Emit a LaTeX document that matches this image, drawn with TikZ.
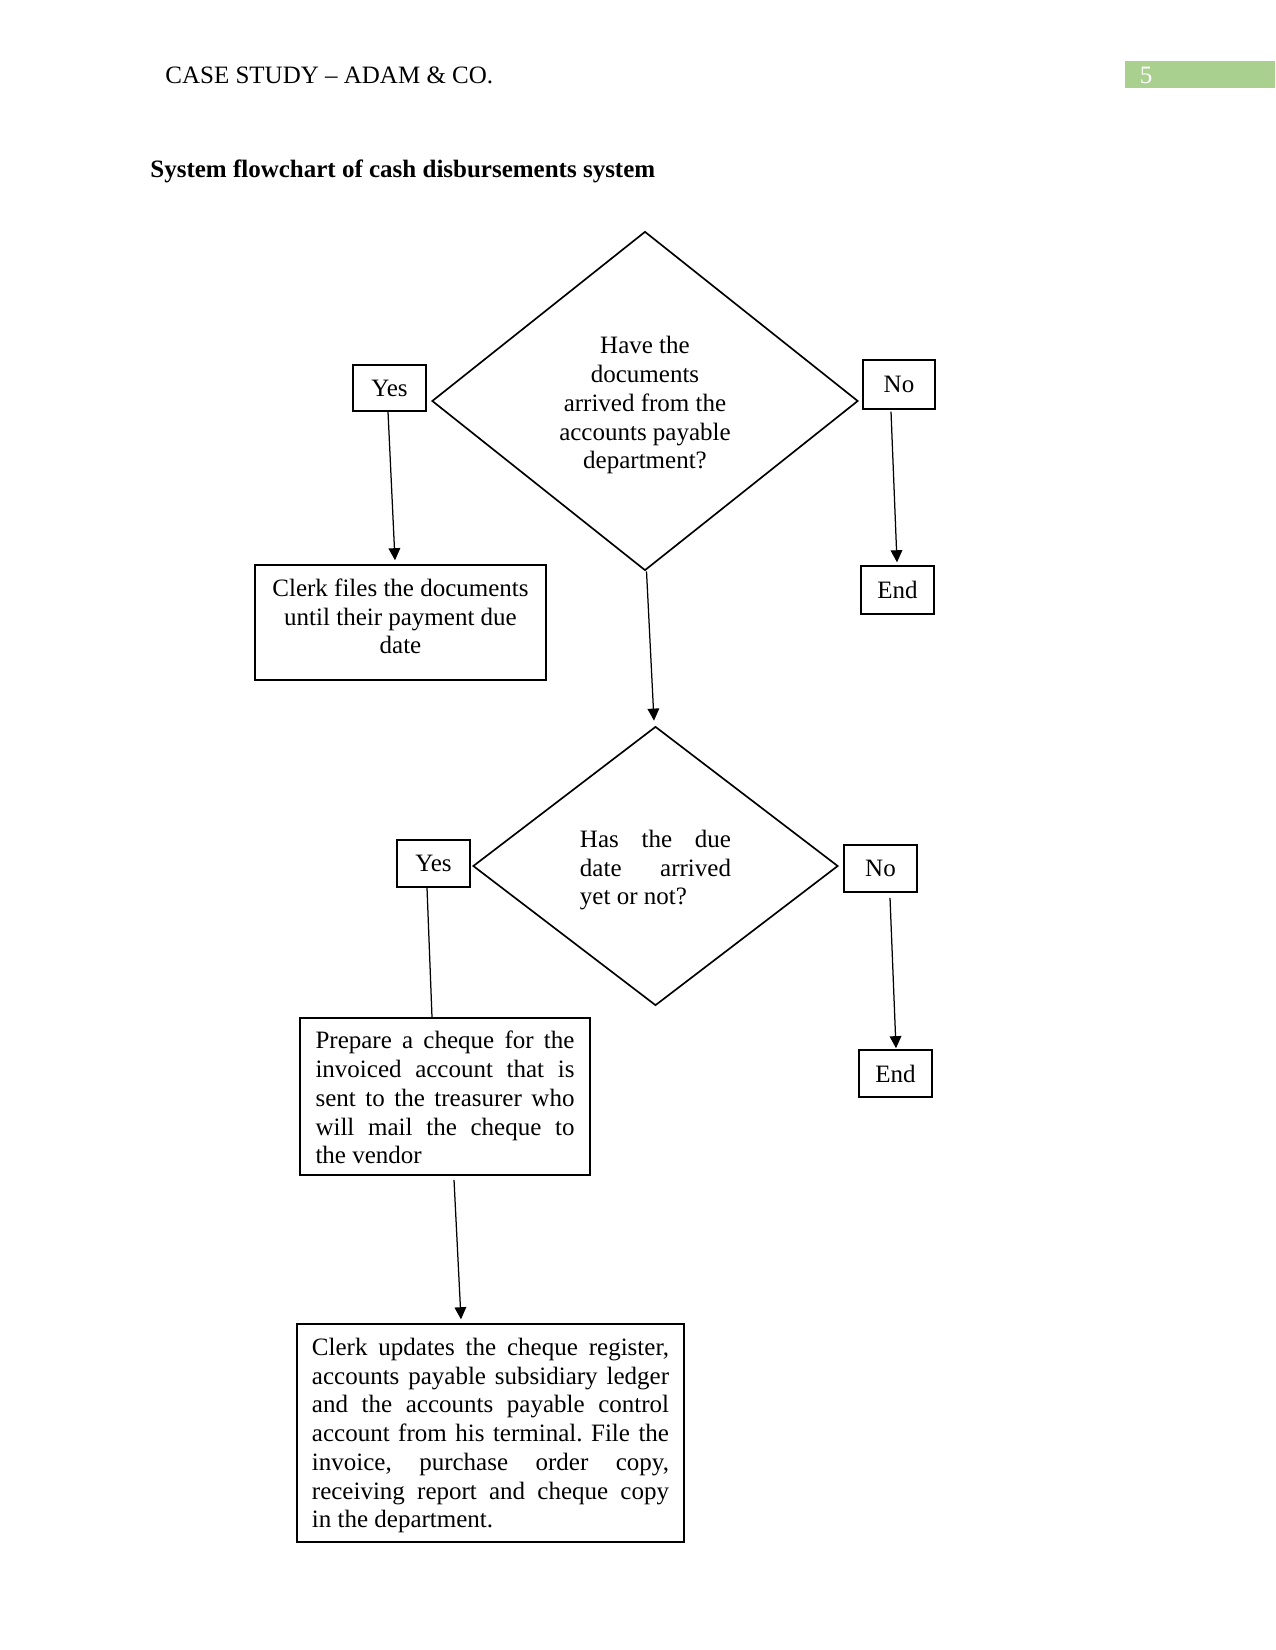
\documentclass[tikz,border=0pt]{standalone}
\usepackage{fontspec}
\setmainfont{Liberation Serif}
\usetikzlibrary{shapes.geometric,arrows.meta,calc}
\definecolor{pnbg}{HTML}{A9D08E}
\frenchspacing
\begin{document}
\begin{tikzpicture}[x=0.48pt,y=-0.48pt,
  every node/.style={font=\fontsize{12}{13.8}\selectfont},
  lbl/.style={draw, line width=0.7pt, inner sep=0pt, minimum width=35pt, minimum height=22.6pt},
  dec/.style={draw, diamond, line width=0.8pt, inner sep=0pt, align=center},
  box/.style={draw, line width=0.7pt, inner sep=0pt},
  arr/.style={line width=0.6pt, -{Triangle[length=5.8pt,width=5.6pt]}},
  ln/.style={line width=0.6pt}]
\useasboundingbox (0,0) rectangle (1275,1650);

% header
\node[anchor=base west, inner sep=0pt] (hdr) at (165,84) {CASE STUDY – ADAM \& CO.};
\fill[pnbg] (1125,61) rectangle (1275,88);
\node[anchor=base, inner sep=0pt, text=white] (pnum) at (1146,84) {5};
\node[anchor=base west, inner sep=0pt] (title) at (150,178) {\bfseries System flowchart of cash disbursements system};

% decisions
\node[dec, minimum width=204.5pt, minimum height=162.7pt] (d1) at (645,401)
  {\rule{0pt}{12.6pt}Have the\\documents\\arrived from the\\accounts payable\\department?};
\node[dec, minimum width=175.2pt, minimum height=133.9pt, align=left] (d2) at (655.5,866)
  {\rule{0pt}{12.2pt}\makebox[72.5pt][s]{Has the due}\\\makebox[72.5pt][s]{date arrived}\\yet or not?};

% labels
\node[lbl, minimum height=22.1pt] (yes1) at (389.5,388) {Yes};
\node[lbl, minimum width=34.6pt, minimum height=23.5pt] (no1) at (899,384.5) {No};
\node[lbl, minimum height=23pt] (end1) at (897.5,590) {End};
\node[lbl] (yes2) at (433.5,863.5) {Yes};
\node[lbl] (no2) at (880.5,868.5) {No};
\node[lbl] (end2) at (895.5,1073.5) {End};

% process boxes
\node[box] (clerk) at (400.5,622.5)
  {\parbox[c][55.2pt][t]{139.7pt}{\centering\rule{0pt}{15pt}Clerk files the documents\\until their payment due\\date}};
\node[box, minimum width=139.2pt] (prep) at (445,1096.5)
  {\parbox[c][75.4pt][t]{124.3pt}{\rule{0pt}{14.8pt}\makebox[124.3pt][s]{Prepare a cheque for the}\\
   \makebox[124.3pt][s]{invoiced account that is}\\
   \makebox[124.3pt][s]{sent to the treasurer who}\\
   \makebox[124.3pt][s]{will mail the cheque to}\\
   the vendor}};
\node[box, minimum width=185.8pt] (upd) at (490.5,1433)
  {\parbox[c][104.6pt][t]{171.4pt}{\rule{0pt}{15pt}\makebox[171.4pt][s]{Clerk updates the cheque register,}\\
   \makebox[171.4pt][s]{accounts payable subsidiary ledger}\\
   \makebox[171.4pt][s]{and the accounts payable control}\\
   \makebox[171.4pt][s]{account from his terminal. File the}\\
   \makebox[171.4pt][s]{invoice, purchase order copy,}\\
   \makebox[171.4pt][s]{receiving report and cheque copy}\\
   in the department.}};

% connectors
\draw[arr] ($(yes1.south)+(-1.5,0)$) -- ($(clerk.north)+(-5.5,-4)$);
\draw[arr] ($(no1.south)+(-8,2)$) -- ($(end1.north)+(-0.5,-3)$);
\draw[arr] ($(d1.south)+(1.5,0)$) -- ($(d2.north)+(-1.5,-5)$);
\draw[ln] ($(yes2.south)+(-6.5,0)$) -- ($(prep.north)+(-13,0)$);
\draw[arr] ($(no2.south)+(9.5,5)$) -- ($(end2.north)+(0.5,-1)$);
\draw[arr] ($(prep.south)+(9,4)$) -- ($(upd.north)+(-29.5,-4)$);
\end{tikzpicture}
\end{document}
